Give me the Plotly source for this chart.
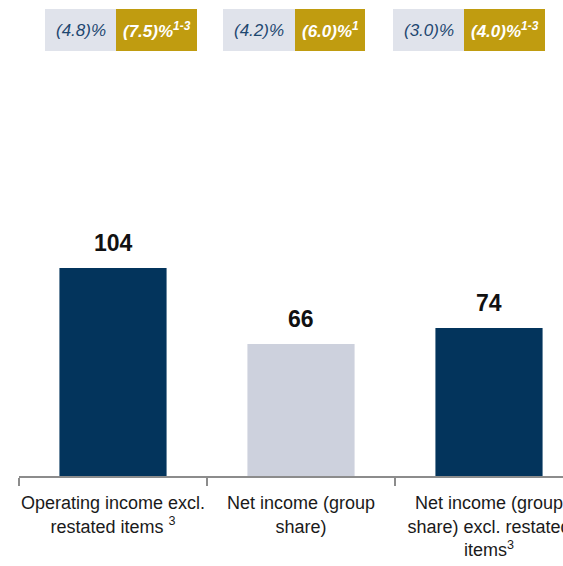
import plotly.graph_objects as go

categories = [
    "Operating income excl.<br>restated items <sup>3</sup>",
    "Net income (group<br>share)",
    "Net income (group<br>share) excl. restated<br>items<sup>3</sup>",
]
values = [104, 66, 74]
bar_colors = ["#03345C", "#CDD1DD", "#03345C"]

# variation boxes above the chart: (reported, restated)
reported_var = ["(4.8)%", "(4.2)%", "(3.0)%"]
restated_var = ["(7.5)%", "(6.0)%", "(4.0)%"]
restated_note = ["1-3", "1", "1-3"]

# box edges in pixels (left, split, right) -- layout only
box_px = [(45, 116, 197), (223, 295, 365), (393, 464, 545)]

W, H = 563, 566
ml, mb = 19, 90
plot_w = W - ml
plot_h = H - mb
cat_px = 188.0

FONT = "Liberation Sans, Arial, sans-serif"

fig = go.Figure()
fig.add_trace(go.Bar(
    x=categories,
    y=values,
    marker=dict(color=bar_colors, line=dict(width=0)),
    width=0.57,
    hoverinfo="none",
    showlegend=False,
))

for c, v in zip(categories, values):
    fig.add_annotation(
        x=c, y=v, xref="x", yref="y",
        text="<b>%d</b>" % v,
        showarrow=False,
        yanchor="bottom",
        yshift=10,
        font=dict(family=FONT, size=23, color="#111111"),
    )


def px_to_paper_x(p):
    return (p - ml) / plot_w


def px_to_paper_y(p):
    return (plot_h - p) / plot_h


y0, y1 = px_to_paper_y(51), px_to_paper_y(9)
for (l, s, r), a, b, n in zip(box_px, reported_var, restated_var, restated_note):
    fig.add_shape(type="rect", xref="paper", yref="paper",
                  x0=px_to_paper_x(l), x1=px_to_paper_x(s), y0=y0, y1=y1,
                  fillcolor="#E0E3EB", line=dict(width=0), layer="above")
    fig.add_shape(type="rect", xref="paper", yref="paper",
                  x0=px_to_paper_x(s), x1=px_to_paper_x(r), y0=y0, y1=y1,
                  fillcolor="#C09C10", line=dict(width=0), layer="above")
    fig.add_annotation(
        x=px_to_paper_x((l + s) / 2), y=(y0 + y1) / 2, xref="paper", yref="paper",
        xanchor="center", yanchor="middle",
        text="<i>%s</i>" % a, showarrow=False,
        font=dict(family=FONT, size=17, color="#1E4770"),
    )
    fig.add_annotation(
        x=px_to_paper_x((s + r) / 2), y=(y0 + y1) / 2, xref="paper", yref="paper",
        xanchor="center", yanchor="middle",
        text="<b><i>%s<sup>%s</sup></i></b>" % (b, n), showarrow=False,
        font=dict(family=FONT, size=17, color="white"),
    )

fig.update_layout(
    width=W,
    height=H,
    margin=dict(l=ml, r=0, t=0, b=mb),
    paper_bgcolor="white",
    plot_bgcolor="white",
    font=dict(family=FONT, color="#1A1A1A"),
    xaxis=dict(
        type="category",
        range=[-0.5, -0.5 + plot_w / cat_px],
        showline=True,
        linecolor="#8C8C8C",
        linewidth=1.5,
        ticks="outside",
        tickson="boundaries",
        ticklen=8,
        tickcolor="#8C8C8C",
        tickwidth=1.5,
        tickangle=0,
        ticklabelstandoff=10,
        tickfont=dict(family=FONT, size=18, color="#1A1A1A"),
        showgrid=False,
        automargin=False,
        fixedrange=True,
    ),
    yaxis=dict(
        range=[0, plot_h / 2.0],
        visible=False,
        showgrid=False,
        zeroline=False,
        fixedrange=True,
    ),
)

fig.write_html("out.html", config={"displayModeBar": False},
               post_script="document.body.style.margin='0';")
